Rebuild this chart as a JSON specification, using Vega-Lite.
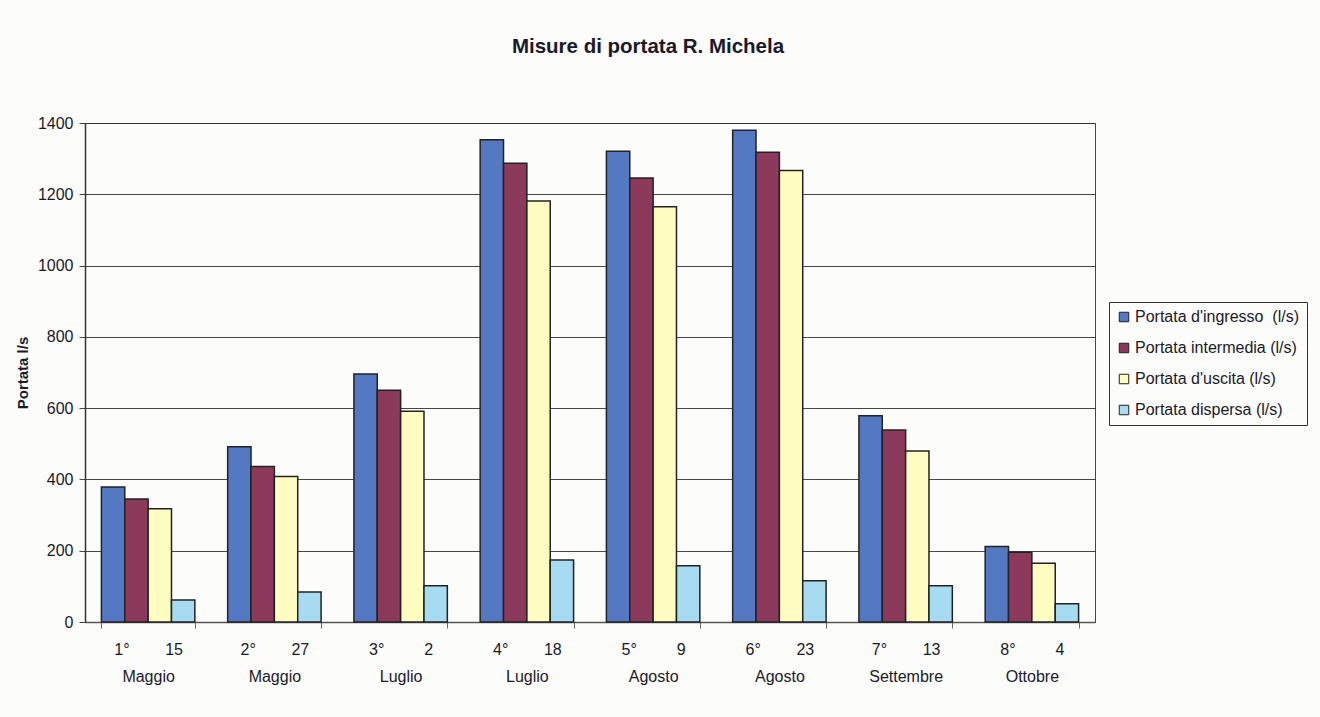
{
  "$schema": "https://vega.github.io/schema/vega-lite/v6.json",
  "autosize": "none",
  "width": 1010,
  "height": 499,
  "padding": {"left": 85, "top": 123, "right": 225, "bottom": 95},
  "background": "#fcfcfa",
  "title": {
    "text": "Misure di portata R. Michela",
    "font": "Liberation Sans",
    "fontSize": 20.5,
    "fontWeight": "bold",
    "color": "#1a1a2a",
    "anchor": "middle",
    "dx": 58,
    "offset": 58
  },
  "config": {
    "font": "Liberation Sans",
    "view": {"stroke": "#444", "strokeWidth": 1},
    "axis": {"labelFont": "Liberation Sans", "titleFont": "Liberation Sans"}
  },
  "data": {
    "values": [
      {"g": "1°\u00a0\u00a0\u00a0\u00a0\u00a0\u00a0\u00a0\u00a015|Maggio", "s": "Portata d'ingresso\u00a0 (l/s)", "v": 379},
      {"g": "1°\u00a0\u00a0\u00a0\u00a0\u00a0\u00a0\u00a0\u00a015|Maggio", "s": "Portata intermedia (l/s)", "v": 345},
      {"g": "1°\u00a0\u00a0\u00a0\u00a0\u00a0\u00a0\u00a0\u00a015|Maggio", "s": "Portata d'uscita (l/s)", "v": 318},
      {"g": "1°\u00a0\u00a0\u00a0\u00a0\u00a0\u00a0\u00a0\u00a015|Maggio", "s": "Portata dispersa (l/s)", "v": 62},
      {"g": "2°\u00a0\u00a0\u00a0\u00a0\u00a0\u00a0\u00a0\u00a027|Maggio", "s": "Portata d'ingresso\u00a0 (l/s)", "v": 492},
      {"g": "2°\u00a0\u00a0\u00a0\u00a0\u00a0\u00a0\u00a0\u00a027|Maggio", "s": "Portata intermedia (l/s)", "v": 436},
      {"g": "2°\u00a0\u00a0\u00a0\u00a0\u00a0\u00a0\u00a0\u00a027|Maggio", "s": "Portata d'uscita (l/s)", "v": 408},
      {"g": "2°\u00a0\u00a0\u00a0\u00a0\u00a0\u00a0\u00a0\u00a027|Maggio", "s": "Portata dispersa (l/s)", "v": 84},
      {"g": "3°\u00a0\u00a0\u00a0\u00a0\u00a0\u00a0\u00a0\u00a0\u00a02|Luglio", "s": "Portata d'ingresso\u00a0 (l/s)", "v": 696},
      {"g": "3°\u00a0\u00a0\u00a0\u00a0\u00a0\u00a0\u00a0\u00a0\u00a02|Luglio", "s": "Portata intermedia (l/s)", "v": 650},
      {"g": "3°\u00a0\u00a0\u00a0\u00a0\u00a0\u00a0\u00a0\u00a0\u00a02|Luglio", "s": "Portata d'uscita (l/s)", "v": 591},
      {"g": "3°\u00a0\u00a0\u00a0\u00a0\u00a0\u00a0\u00a0\u00a0\u00a02|Luglio", "s": "Portata dispersa (l/s)", "v": 102},
      {"g": "4°\u00a0\u00a0\u00a0\u00a0\u00a0\u00a0\u00a0\u00a018|Luglio", "s": "Portata d'ingresso\u00a0 (l/s)", "v": 1353},
      {"g": "4°\u00a0\u00a0\u00a0\u00a0\u00a0\u00a0\u00a0\u00a018|Luglio", "s": "Portata intermedia (l/s)", "v": 1287},
      {"g": "4°\u00a0\u00a0\u00a0\u00a0\u00a0\u00a0\u00a0\u00a018|Luglio", "s": "Portata d'uscita (l/s)", "v": 1181},
      {"g": "4°\u00a0\u00a0\u00a0\u00a0\u00a0\u00a0\u00a0\u00a018|Luglio", "s": "Portata dispersa (l/s)", "v": 174},
      {"g": "5°\u00a0\u00a0\u00a0\u00a0\u00a0\u00a0\u00a0\u00a0\u00a09|Agosto", "s": "Portata d'ingresso\u00a0 (l/s)", "v": 1321},
      {"g": "5°\u00a0\u00a0\u00a0\u00a0\u00a0\u00a0\u00a0\u00a0\u00a09|Agosto", "s": "Portata intermedia (l/s)", "v": 1246},
      {"g": "5°\u00a0\u00a0\u00a0\u00a0\u00a0\u00a0\u00a0\u00a0\u00a09|Agosto", "s": "Portata d'uscita (l/s)", "v": 1165},
      {"g": "5°\u00a0\u00a0\u00a0\u00a0\u00a0\u00a0\u00a0\u00a0\u00a09|Agosto", "s": "Portata dispersa (l/s)", "v": 158},
      {"g": "6°\u00a0\u00a0\u00a0\u00a0\u00a0\u00a0\u00a0\u00a023|Agosto", "s": "Portata d'ingresso\u00a0 (l/s)", "v": 1380},
      {"g": "6°\u00a0\u00a0\u00a0\u00a0\u00a0\u00a0\u00a0\u00a023|Agosto", "s": "Portata intermedia (l/s)", "v": 1318},
      {"g": "6°\u00a0\u00a0\u00a0\u00a0\u00a0\u00a0\u00a0\u00a023|Agosto", "s": "Portata d'uscita (l/s)", "v": 1267},
      {"g": "6°\u00a0\u00a0\u00a0\u00a0\u00a0\u00a0\u00a0\u00a023|Agosto", "s": "Portata dispersa (l/s)", "v": 116},
      {"g": "7°\u00a0\u00a0\u00a0\u00a0\u00a0\u00a0\u00a0\u00a013|Settembre", "s": "Portata d'ingresso\u00a0 (l/s)", "v": 579},
      {"g": "7°\u00a0\u00a0\u00a0\u00a0\u00a0\u00a0\u00a0\u00a013|Settembre", "s": "Portata intermedia (l/s)", "v": 539},
      {"g": "7°\u00a0\u00a0\u00a0\u00a0\u00a0\u00a0\u00a0\u00a013|Settembre", "s": "Portata d'uscita (l/s)", "v": 480},
      {"g": "7°\u00a0\u00a0\u00a0\u00a0\u00a0\u00a0\u00a0\u00a013|Settembre", "s": "Portata dispersa (l/s)", "v": 102},
      {"g": "8°\u00a0\u00a0\u00a0\u00a0\u00a0\u00a0\u00a0\u00a0\u00a04|Ottobre", "s": "Portata d'ingresso\u00a0 (l/s)", "v": 212},
      {"g": "8°\u00a0\u00a0\u00a0\u00a0\u00a0\u00a0\u00a0\u00a0\u00a04|Ottobre", "s": "Portata intermedia (l/s)", "v": 196},
      {"g": "8°\u00a0\u00a0\u00a0\u00a0\u00a0\u00a0\u00a0\u00a0\u00a04|Ottobre", "s": "Portata d'uscita (l/s)", "v": 165},
      {"g": "8°\u00a0\u00a0\u00a0\u00a0\u00a0\u00a0\u00a0\u00a0\u00a04|Ottobre", "s": "Portata dispersa (l/s)", "v": 51}
    ]
  },
  "mark": {"type": "bar", "stroke": "#222", "strokeWidth": 1.5},
  "encoding": {
    "x": {
      "field": "g",
      "type": "nominal",
      "sort": null,
      "scale": {"paddingInner": 0.26, "paddingOuter": 0.13},
      "axis": {
        "title": null,
        "labelAngle": 0,
        "labelExpr": "split(datum.label, '|')",
        "labelFontSize": 16,
        "labelColor": "#1a1a2a",
        "labelLineHeight": 27,
        "labelPadding": 13,
        "labelBaseline": "top",
        "tickBand": "extent",
        "tickSize": 6,
        "tickColor": "#666",
        "domainColor": "#555",
        "domainWidth": 1.5
      }
    },
    "xOffset": {
      "field": "s",
      "type": "nominal",
      "sort": null,
      "scale": {"paddingInner": 0, "paddingOuter": 0}
    },
    "y": {
      "field": "v",
      "type": "quantitative",
      "scale": {"domain": [0, 1400], "nice": false},
      "axis": {
        "title": "Portata l/s",
        "titleFontSize": 15,
        "titleFontWeight": "bold",
        "titleColor": "#1a1a2a",
        "titlePadding": 7,
        "format": "d",
        "values": [0, 200, 400, 600, 800, 1000, 1200, 1400],
        "labelFontSize": 16,
        "labelColor": "#1a1a2a",
        "labelPadding": 6,
        "tickSize": 6,
        "tickColor": "#444",
        "domainColor": "#333",
        "domainWidth": 1.5,
        "grid": true,
        "gridColor": "#333",
        "gridWidth": 1.2,
        "gridOpacity": 0.9
      }
    },
    "color": {
      "field": "s",
      "type": "nominal",
      "sort": null,
      "scale": {
        "domain": ["Portata d'ingresso\u00a0 (l/s)", "Portata intermedia (l/s)", "Portata d'uscita (l/s)", "Portata dispersa (l/s)"],
        "range": ["#5578c2", "#8c3a5c", "#fffcc2", "#a6dbf2"]
      },
      "legend": {
        "title": null,
        "orient": "none",
        "legendX": 1024,
        "legendY": 179,
        "padding": 7,
        "strokeColor": "#333",
        "fillColor": "#fcfcfa",
        "symbolType": "square",
        "symbolSize": 90,
        "symbolStrokeColor": "#222",
        "symbolStrokeWidth": 1,
        "labelFontSize": 16,
        "labelColor": "#1a1a2a",
        "labelLimit": 300,
        "rowPadding": 15,
        "labelOffset": 3
      }
    }
  }
}
